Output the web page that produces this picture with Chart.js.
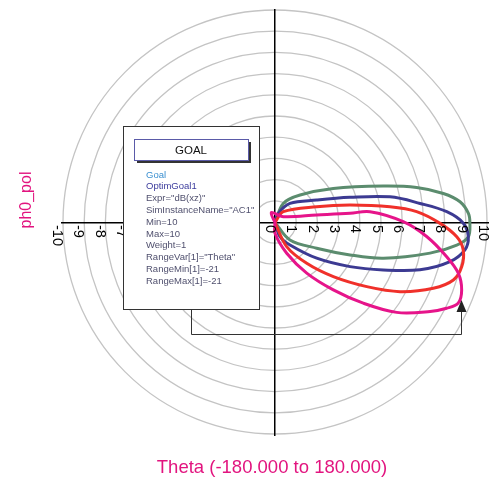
<!DOCTYPE html>
<html><head><meta charset="utf-8">
<script src="https://cdn.jsdelivr.net/npm/chart.js@4.4.0/dist/chart.umd.min.js"></script>
<style>html,body{margin:0;padding:0;background:#fff}#wrap{width:500px;height:479px;position:relative}</style>
</head><body><div id="wrap"><canvas id="c"></canvas></div>
<script>
// Tick labels along the horizontal diameter
const axisTicks = [-10,-9,-8,-7,-6,-5,-4,-3,-2,-1,0,1,2,3,4,5,6,7,8,9,10];
// Polar series: angle (deg) and magnitude
const pinkTheta  = [180, 110, 35, 10.2, 7, 6.5, 0.4, -5.3, -11.3, -15.5, -19.9, -23.8, -26.6, -29.9, -36.5, -42.5, -49.2, -58, -69.2, -90, -180];
const pinkR      = [0, 0.5, 0.48, 1.99, 3.55, 4.49, 6.02, 7.15, 8.22, 8.93, 9.32, 9.40, 9.01, 8.4, 7.11, 5.62, 4.19, 2.81, 1.55, 0.51, 0];
const redTheta   = [90, 52.5, 20.8, 13.1, 7.8, 4.4, -0.3, -4.5, -8.3, -13.3, -17.9, -22.6, -29, -35, -42.9, -52.2, -64.2, -90];
const redR       = [0, 0.64, 2.09, 3.62, 5.45, 6.67, 7.75, 8.56, 8.93, 9.01, 8.8, 8.05, 6.71, 5.26, 3.74, 2.43, 1.26, 0];
const blueTheta  = [90, 70, 52, 28.4, 18.6, 12.6, 7.5, 3.6, -0.2, -4.2, -8.2, -12.6, -18.1, -23.7, -30.5, -40.6, -56.3, -70.6, -90];
const blueR      = [0, 0.46, 1.14, 2.22, 3.71, 5.53, 6.87, 8.08, 8.84, 9.10, 9.01, 8.42, 7.16, 5.55, 4.09, 2.58, 1.27, 0.71, 0];
const greenTheta = [90, 66.6, 47.7, 30.4, 18.6, 13.9, 9.8, 6.4, 2.7, -0.2, -4.2, -7.1, -11.2, -18.3, -23.4, -31.7, -49.4, -90];
const greenR     = [0, 0.98, 1.75, 3.17, 5.37, 6.85, 8.02, 8.74, 9.09, 9.15, 9.10, 8.6, 7.42, 5.36, 3.84, 2.3, 1.08, 0];
const goalLines = ['Goal','OptimGoal1','Expr="dB(xz)"','SimInstanceName="AC1"','Min=10','Max=10','Weight=1','RangeVar[1]="Theta"','RangeMin[1]=-21','RangeMax[1]=-21'];

function polar(th, r){ return th.map((t,i)=>({x: r[i]*Math.cos(t*Math.PI/180), y: r[i]*Math.sin(t*Math.PI/180)})); }
const FONT = '"Liberation Sans", Arial, Helvetica, sans-serif';
const PINK = '#e2147f';

const decor = {
  id:'decor',
  afterDraw(chart){
    const ctx = chart.ctx, xs = chart.scales.x, ys = chart.scales.y;
    const y0 = ys.getPixelForValue(0);
    ctx.save();
    // rotated tick labels
    ctx.font = '14.5px ' + FONT; ctx.fillStyle = '#000';
    ctx.textAlign = 'left'; ctx.textBaseline = 'middle';
    axisTicks.forEach(v=>{
      const px = xs.getPixelForValue(v);
      ctx.save(); ctx.translate(px-5, y0+2.5); ctx.rotate(Math.PI/2); ctx.fillText(String(v),0,0); ctx.restore();
    });
    // axis titles
    ctx.fillStyle = PINK; ctx.textAlign='center';
    ctx.font = '18.5px ' + FONT;
    ctx.fillText('Theta (-180.000 to 180.000)', 272, 468);
    ctx.font = '16px ' + FONT;
    ctx.save(); ctx.translate(27,200); ctx.rotate(-Math.PI/2); ctx.fillText('ph0_pol',0,0); ctx.restore();
    // goal box
    ctx.fillStyle='#fff'; ctx.fillRect(123.5,126.5,136,183);
    ctx.strokeStyle='#333'; ctx.lineWidth=1; ctx.strokeRect(123.5,126.5,136,183);
    ctx.fillStyle='#333'; ctx.fillRect(137,142,114,21);
    ctx.fillStyle='#fff'; ctx.fillRect(134.5,139.5,114,21);
    ctx.strokeStyle='#5a5aa8'; ctx.strokeRect(134.5,139.5,114,21);
    ctx.fillStyle='#111'; ctx.font='11.5px '+FONT; ctx.textAlign='center';
    ctx.fillText('GOAL',191,150.5);
    ctx.textAlign='left'; ctx.font='9.5px '+FONT;
    goalLines.forEach((t,i)=>{
      ctx.fillStyle = i===0 ? '#3a8fd0' : (i===1 ? '#3b3b9c' : '#50506e');
      ctx.fillText(t,146,175+i*11.8);
    });
    // connector
    ctx.strokeStyle='#333'; ctx.lineWidth=1;
    ctx.beginPath(); ctx.moveTo(191.5,309.5); ctx.lineTo(191.5,334.5); ctx.lineTo(461.5,334.5); ctx.lineTo(461.5,311); ctx.stroke();
    ctx.fillStyle='#222'; ctx.beginPath(); ctx.moveTo(461.5,300); ctx.lineTo(456.5,312); ctx.lineTo(466.5,312); ctx.closePath(); ctx.fill();
    ctx.restore();
  }
};

new Chart(document.getElementById('c'), {
  type:'scatter',
  data:{ datasets:[
    {label:'pink', data:polar(pinkTheta,pinkR), borderColor:'#e6148a', borderWidth:3},
    {label:'red', data:polar(redTheta,redR), borderColor:'#f0302a', borderWidth:3},
    {label:'blue', data:polar(blueTheta,blueR), borderColor:'#3c3a92', borderWidth:3},
    {label:'green', data:polar(greenTheta,greenR), borderColor:'#5b8c6e', borderWidth:3}
  ].map(d=>Object.assign(d,{showLine:true, pointRadius:0, tension:0.35, fill:false}))},
  options:{
    responsive:true, maintainAspectRatio:false, animation:false,
    layout:{padding:{left:62,right:12,top:10,bottom:44}},
    plugins:{legend:{display:false}, tooltip:{enabled:false}, title:{display:false}},
    scales:{
      r:{type:'radialLinear', min:0, max:10, ticks:{display:false, stepSize:1}, grid:{circular:true, color:'#c4c4c4', lineWidth:1.3}, angleLines:{display:false}, pointLabels:{display:false}},
      x:{type:'linear', min:-10, max:10, position:{y:0}, grid:{display:false}, border:{display:true, color:'#000', width:1.5}, ticks:{display:false, stepSize:1}},
      y:{type:'linear', min:-10, max:10, position:{x:0}, grid:{display:false}, border:{display:true, color:'#000', width:1.5}, ticks:{display:false, stepSize:1}}
    }
  },
  plugins:[decor]
});
</script>
</body></html>
